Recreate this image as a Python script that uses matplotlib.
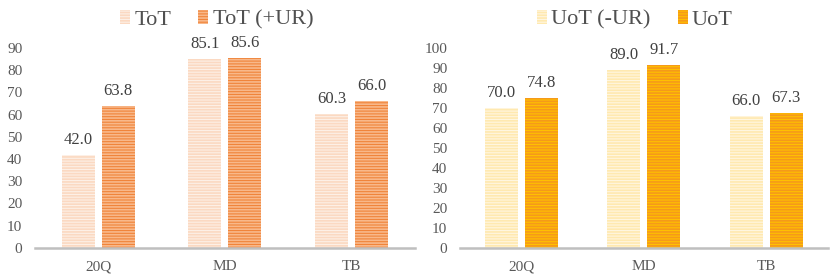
import matplotlib
matplotlib.use("Agg")
import matplotlib.pyplot as plt
import numpy as np

plt.rcParams['font.family'] = ['Liberation Serif', 'DejaVu Serif']
plt.rcParams['hatch.linewidth'] = 1.2

categories = ["20Q", "MD", "TB"]

left_labels = ["ToT", "ToT (+UR)"]
tot = [42.0, 85.1, 60.3]
tot_ur = [63.8, 85.6, 66.0]

right_labels = ["UoT (-UR)", "UoT"]
uot_nour = [70.0, 89.0, 66.0]
uot = [74.8, 91.7, 67.3]

fig = plt.figure(figsize=(8.3, 2.77), dpi=100)

def draw(ax_rect, s1, s2, labels, ymax, face1, hatch1, face2, hatch2, width, off, legx):
    ax = fig.add_axes(ax_rect)
    x = np.arange(len(categories))
    b1 = ax.bar(x - off, s1, width, color=face1, edgecolor=hatch1, linewidth=0, hatch='------', label=labels[0])
    b2 = ax.bar(x + off, s2, width, color=face2, edgecolor=hatch2, linewidth=0, hatch='------', label=labels[1])
    for bars, vals in ((b1, s1), (b2, s2)):
        for r, v in zip(bars, vals):
            ax.annotate(f"{v:.1f}", (r.get_x() + r.get_width() / 2, v), xytext=(0, 5),
                        textcoords='offset points', ha='center', va='bottom',
                        fontsize=12, color='#404040')
    ax.set_xlim(-0.5, len(categories) - 0.5)
    ax.set_ylim(0, ymax)
    ax.set_yticks(np.arange(0, ymax + 1, 10))
    ax.set_xticks(x)
    ax.set_xticklabels(categories)
    for s in ['top', 'right', 'left']:
        ax.spines[s].set_visible(False)
    ax.spines['bottom'].set_color('#bfbfbf')
    ax.spines['bottom'].set_linewidth(1.8)
    ax.tick_params(axis='both', length=0, labelsize=11, labelcolor='#595959')
    ax.tick_params(axis='x', pad=9)
    ax.tick_params(axis='y', pad=9)
    fig.legend(handles=[b1, b2], labels=labels, loc='center', bbox_to_anchor=(legx, 0.928),
               ncol=2, frameon=False, fontsize=16, handlelength=0.45, handleheight=0.6,
               columnspacing=1.2, handletextpad=0.2, labelcolor='#505050',
               borderpad=0, borderaxespad=0)
    return ax

draw([0.042, 0.105, 0.458, 0.722], tot, tot_ur, left_labels, 90,
     '#fdf0e6', '#fbd9c2', '#f0843a', '#f8b88a', 0.26, 0.158, 0.261)
draw([0.554, 0.105, 0.443, 0.722], uot_nour, uot, right_labels, 100,
     '#fff6e0', '#ffe9b0', '#ffc000', '#f59a1a', 0.27, 0.163, 0.765)

fig.savefig("out.png", dpi=100)
